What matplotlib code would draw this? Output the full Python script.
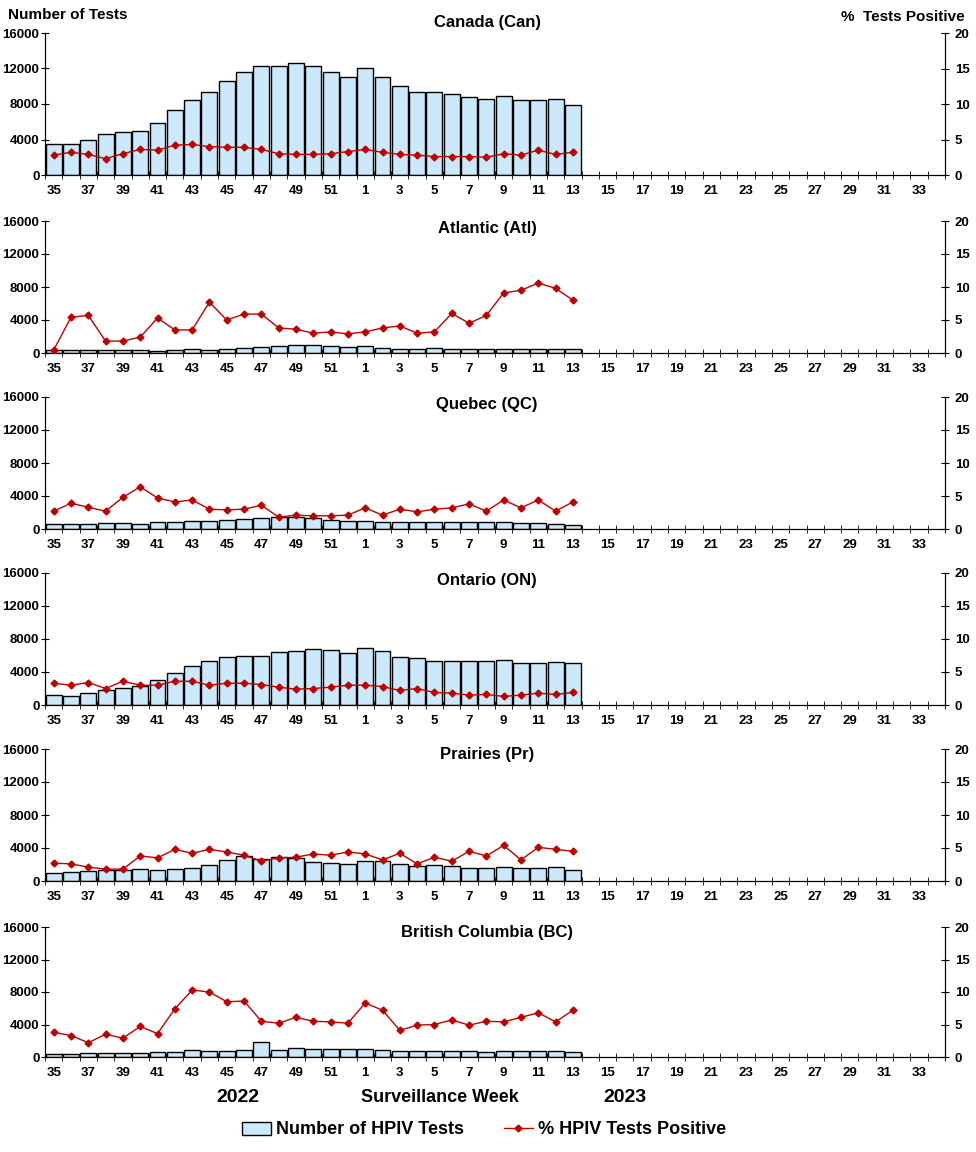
import numpy as np
import matplotlib
matplotlib.use('Agg')
import matplotlib.pyplot as plt
from matplotlib.lines import Line2D
from matplotlib.patches import Patch

plt.rcParams['font.family'] = ['Liberation Sans', 'DejaVu Sans']
plt.rcParams['font.weight'] = 'bold'

# Semaines de surveillance (35 a 52 en 2022, puis 1 a 34 en 2023)
weeks = list(range(35, 53)) + list(range(1, 35))

regions = ['Canada (Can)', 'Atlantic (Atl)', 'Quebec (QC)',
           'Ontario (ON)', 'Prairies (Pr)', 'British Columbia (BC)']

# Nombre de tests (semaines 35 a 13)
tests_can = [3500, 3500, 3900, 4600, 4800, 5000, 5900, 7300, 8400, 9300, 10600, 11600,
             12300, 12300, 12600, 12300, 11600, 11000, 12000, 11000, 10000, 9400, 9400,
             9100, 8800, 8600, 8900, 8500, 8500, 8600, 7900]
tests_atl = [400, 400, 400, 400, 400, 400, 300, 400, 500, 400, 500, 600, 700, 850, 1000,
             1000, 850, 750, 850, 600, 500, 500, 600, 500, 500, 500, 500, 500, 500, 500, 500]
tests_qc = [600, 600, 600, 730, 700, 600, 850, 850, 970, 950, 1100, 1200, 1330, 1450, 1450,
            1330, 1100, 970, 970, 850, 850, 850, 850, 850, 850, 850, 850, 730, 730, 600, 480]
tests_on = [1200, 1050, 1400, 1780, 2020, 2300, 3000, 3850, 4700, 5300, 5790, 5900, 5900,
            6400, 6520, 6760, 6640, 6270, 6880, 6520, 5790, 5670, 5300, 5300, 5300, 5300,
            5430, 5060, 5060, 5180, 5060]
tests_pr = [970, 1090, 1210, 1330, 1330, 1450, 1330, 1450, 1580, 1940, 2550, 3030, 2670,
            2910, 2790, 2300, 2180, 2060, 2420, 2420, 2060, 1820, 1940, 1820, 1580, 1580,
            1700, 1580, 1580, 1700, 1330]
tests_bc = [420, 420, 540, 540, 540, 540, 660, 660, 910, 790, 790, 910, 1790, 910, 1160,
            1040, 1040, 1040, 1040, 910, 790, 790, 790, 790, 790, 660, 790, 790, 790, 790, 660]

# Pourcentage de tests positifs
pos_can = [2.8, 3.2, 2.9, 2.3, 3.0, 3.6, 3.5, 4.2, 4.3, 4.0, 3.9, 3.9, 3.6, 3.0, 2.9, 2.9,
           3.0, 3.3, 3.6, 3.2, 2.9, 2.8, 2.6, 2.6, 2.6, 2.5, 3.0, 2.8, 3.5, 2.9, 3.2]
pos_atl = [0.45, 5.4, 5.7, 1.8, 1.8, 2.4, 5.3, 3.5, 3.5, 7.7, 5.0, 5.9, 5.9, 3.8, 3.6, 3.0,
           3.2, 2.9, 3.2, 3.8, 4.1, 3.0, 3.2, 6.0, 4.5, 5.7, 9.1, 9.5, 10.6, 9.8, 8.0]
pos_qc = [2.7, 3.9, 3.3, 2.7, 4.8, 6.4, 4.7, 4.1, 4.4, 3.0, 2.9, 3.0, 3.6, 1.8, 2.1, 2.0,
          2.0, 2.1, 3.2, 2.1, 3.0, 2.6, 3.0, 3.2, 3.8, 2.7, 4.4, 3.2, 4.4, 2.7, 4.1]
pos_on = [3.3, 3.0, 3.4, 2.5, 3.6, 3.0, 3.0, 3.6, 3.6, 3.0, 3.3, 3.3, 3.1, 2.7, 2.4, 2.5,
          2.7, 3.0, 3.0, 2.8, 2.2, 2.5, 1.9, 1.8, 1.5, 1.6, 1.3, 1.5, 1.8, 1.6, 1.9]
pos_pr = [2.7, 2.6, 2.1, 1.8, 1.8, 3.8, 3.5, 4.8, 4.2, 4.8, 4.4, 3.9, 3.0, 3.5, 3.6, 4.1,
          3.9, 4.4, 4.1, 3.2, 4.2, 2.6, 3.6, 3.0, 4.5, 3.8, 5.4, 3.2, 5.1, 4.8, 4.5]
pos_bc = [3.8, 3.3, 2.2, 3.5, 2.9, 4.7, 3.6, 7.4, 10.3, 10.0, 8.5, 8.6, 5.5, 5.2, 6.1, 5.5,
          5.4, 5.2, 8.3, 7.2, 4.1, 4.9, 5.0, 5.7, 4.9, 5.5, 5.4, 6.1, 6.8, 5.4, 7.2]

tests = [tests_can, tests_atl, tests_qc, tests_on, tests_pr, tests_bc]
positives = [pos_can, pos_atl, pos_qc, pos_on, pos_pr, pos_bc]

W, H = 976, 1152
bar_color = '#cce9fb'
line_color = '#c00000'

# positions des axes en pixels (haut, bas) et du titre
panels_px = [(33, 175), (221, 353), (397, 529), (573, 705), (749, 881), (927, 1057)]
titles_y = [23, 228, 405, 580, 755, 932]
x_left, x_right = 45, 945

fig = plt.figure(figsize=(W / 100, H / 100), dpi=100)

n = len(weeks)
xs = np.arange(n)

for i, (top, bottom) in enumerate(panels_px):
    ax = fig.add_axes([x_left / W, 1 - bottom / H, (x_right - x_left) / W, (bottom - top) / H])
    vals = tests[i]
    ax.bar(xs[:len(vals)], vals, width=0.92, color=bar_color, edgecolor='black', linewidth=1, zorder=2)
    ax.set_xlim(-0.5, n - 0.5)
    ax.set_ylim(0, 16000)
    ax.set_yticks([0, 4000, 8000, 12000, 16000])
    ax.tick_params(axis='y', direction='inout', length=6, labelsize=9.5, pad=1)
    ax.set_xticks(xs[::2])
    ax.set_xticklabels([str(w) for w in weeks[::2]], fontsize=9.5, fontweight='bold')
    ax.set_xticks(np.arange(n + 1) - 0.5, minor=True)
    ax.tick_params(axis='x', which='major', length=0, pad=7)
    ax.tick_params(axis='x', which='minor', direction='inout', length=6)
    ax.spines['top'].set_visible(False)
    for lab in ax.get_yticklabels():
        lab.set_fontweight('bold')

    ax2 = ax.twinx()
    pv = positives[i]
    ax2.plot(xs[:len(pv)], pv, color=line_color, linewidth=1, marker='D', markersize=3.5,
             markeredgecolor=line_color, zorder=3)
    ax2.set_ylim(0, 20)
    ax2.set_yticks([0, 5, 10, 15, 20])
    ax2.tick_params(axis='y', direction='inout', length=6, labelsize=9.5, pad=4)
    ax2.spines['top'].set_visible(False)
    for lab in ax2.get_yticklabels():
        lab.set_fontweight('bold')

    fig.text(487 / W, 1 - titles_y[i] / H, regions[i], ha='center', va='center',
             fontsize=12, fontweight='bold')

fig.text(8 / W, 1 - 15 / H, 'Number of Tests', ha='left', va='center', fontsize=11, fontweight='bold')
fig.text(965 / W, 1 - 17 / H, '%  Tests Positive', ha='right', va='center', fontsize=11, fontweight='bold')

fig.text(238 / W, 1 - 1097 / H, '2022', ha='center', va='center', fontsize=14, fontweight='bold')
fig.text(440 / W, 1 - 1097 / H, 'Surveillance Week', ha='center', va='center', fontsize=13, fontweight='bold')
fig.text(625 / W, 1 - 1097 / H, '2023', ha='center', va='center', fontsize=14, fontweight='bold')

handles = [Patch(facecolor=bar_color, edgecolor='black', linewidth=1),
           Line2D([0], [0], color=line_color, linewidth=1, marker='D', markersize=3.5)]
fig.legend(handles, ['Number of HPIV Tests', '% HPIV Tests Positive'],
           loc='center', bbox_to_anchor=(484 / W, 1 - 1130 / H), ncol=2, frameon=False,
           prop={'size': 13, 'weight': 'bold'}, handlelength=1.6, handletextpad=0.3,
           columnspacing=2.2)

plt.savefig('out.png', dpi=100)
